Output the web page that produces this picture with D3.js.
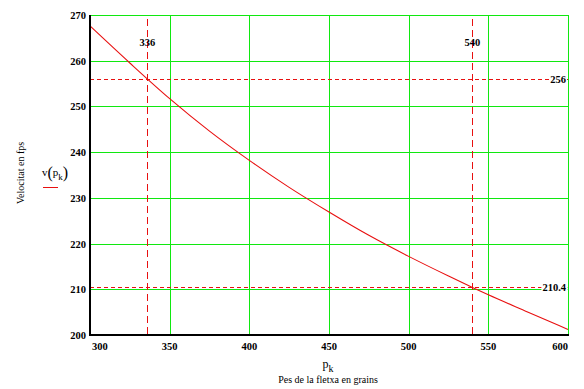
<!DOCTYPE html>
<html>
<head>
<meta charset="utf-8">
<script src="https://cdn.jsdelivr.net/npm/d3@7"></script>
<style>
  html, body { margin: 0; padding: 0; background: #fff; }
  svg { display: block; font-family: "Liberation Serif", "DejaVu Serif", serif; }
</style>
</head>
<body>
<svg id="chart" width="584" height="389"></svg>
<script>
// arrow weight in grains vs velocity in fps
const weights = [300, 325, 350, 375, 400, 425, 450, 475, 500, 525, 540, 550, 575, 600];
const velocities = [267.6, 259.5, 251.7, 244.6, 238.2, 232.3, 226.9, 221.8, 217.2, 212.9, 210.4, 208.8, 205.0, 201.2];

const xTicks = [300, 350, 400, 450, 500, 550, 600];
const yTicks = [200, 210, 220, 230, 240, 250, 260, 270];

// marker values
const markerX = [336, 540];
const markerY = [256, 210.4];

const svg = d3.select("#chart");
const plotL = 90, plotR = 568, plotT = 15, plotB = 335;

const x = d3.scaleLinear().domain([300, 600]).range([plotL, plotR]);
const y = d3.scaleLinear().domain([200, 270]).range([plotB, plotT]);

const grid = "#10e810";
const mark = "#e81010";

// grid
svg.append("g")
  .selectAll("line")
  .data(xTicks.slice(1))
  .join("line")
  .attr("x1", d => Math.round(x(d)) + 0.5)
  .attr("x2", d => Math.round(x(d)) + 0.5)
  .attr("y1", plotT)
  .attr("y2", plotB)
  .attr("stroke", grid);

svg.append("g")
  .selectAll("line")
  .data(yTicks.slice(1))
  .join("line")
  .attr("y1", d => Math.round(y(d)) + 0.5)
  .attr("y2", d => Math.round(y(d)) + 0.5)
  .attr("x1", plotL)
  .attr("x2", plotR)
  .attr("stroke", grid);

// marker lines
svg.append("g")
  .selectAll("line")
  .data(markerX)
  .join("line")
  .attr("x1", d => Math.round(x(d)) + 0.5)
  .attr("x2", d => Math.round(x(d)) + 0.5)
  .attr("y1", plotT + 4)
  .attr("y2", plotB)
  .attr("stroke", mark)
  .attr("stroke-dasharray", "7,4");

svg.append("g")
  .selectAll("line")
  .data(markerY)
  .join("line")
  .attr("y1", d => Math.round(y(d)) + 0.5)
  .attr("y2", d => Math.round(y(d)) + 0.5)
  .attr("x1", plotL)
  .attr("x2", plotR)
  .attr("stroke", mark)
  .attr("stroke-dasharray", "4,3");

// curve
const line = d3.line()
  .x((d, i) => x(weights[i]))
  .y(d => y(d))
  .curve(d3.curveMonotoneX);

svg.append("path")
  .attr("d", line(velocities))
  .attr("fill", "none")
  .attr("stroke", mark)
  .attr("stroke-width", 1.1);

// axes (left and bottom)
svg.append("line")
  .attr("x1", plotL).attr("x2", plotL)
  .attr("y1", plotT).attr("y2", plotB + 1)
  .attr("stroke", "#000").attr("stroke-width", 2);
svg.append("line")
  .attr("x1", plotL - 1).attr("x2", plotR + 1)
  .attr("y1", plotB).attr("y2", plotB)
  .attr("stroke", "#000").attr("stroke-width", 2);

// tick labels
svg.append("g")
  .selectAll("text")
  .data(xTicks)
  .join("text")
  .attr("x", (d, i) => i === 0 ? x(d) + 2 : x(d))
  .attr("y", 350)
  .attr("text-anchor", (d, i) => i === 0 ? "start" : i === xTicks.length - 1 ? "end" : "middle")
  .attr("font-size", "10.5px")
  .attr("font-weight", "bold")
  .text(d => d);

svg.append("g")
  .selectAll("text")
  .data(yTicks)
  .join("text")
  .attr("x", 86)
  .attr("y", d => y(d) + 4)
  .attr("text-anchor", "end")
  .attr("font-size", "10.5px")
  .attr("font-weight", "bold")
  .text(d => d);

// marker labels
svg.append("g")
  .selectAll("text")
  .data(markerX)
  .join("text")
  .attr("x", d => x(d))
  .attr("y", 46)
  .attr("text-anchor", "middle")
  .attr("font-size", "10.5px")
  .attr("font-weight", "bold")
  .text(d => d);

const yLabels = svg.append("g")
  .selectAll("g")
  .data(markerY)
  .join("g");
yLabels.append("rect")
  .attr("x", 551)
  .attr("y", d => y(d) - 6)
  .attr("width", 16)
  .attr("height", 11)
  .attr("fill", "#fff");
yLabels.append("text")
  .attr("x", 566)
  .attr("y", d => y(d) + 4)
  .attr("text-anchor", "end")
  .attr("font-size", "10.5px")
  .attr("font-weight", "bold")
  .text(d => d)
  .each(function () {
    const b = this.getBBox();
    d3.select(this.previousSibling).attr("x", b.x - 1).attr("width", b.width + 2);
  });

// axis titles
const xt = svg.append("text")
  .attr("x", 328)
  .attr("y", 368)
  .attr("text-anchor", "middle")
  .attr("font-size", "12px");
xt.append("tspan").text("p");
xt.append("tspan").attr("dy", 4).attr("font-size", "10px").text("k");

svg.append("text")
  .attr("x", 328)
  .attr("y", 383)
  .attr("text-anchor", "middle")
  .attr("font-size", "10px")
  .text("Pes de la fletxa en grains");

svg.append("text")
  .attr("transform", "translate(24,173) rotate(-90)")
  .attr("text-anchor", "middle")
  .attr("font-size", "10px")
  .text("Velocitat en fps");

// legend: v(p_k) with red sample line
const lg = svg.append("text")
  .attr("x", 42)
  .attr("y", 176)
  .attr("font-size", "11px");
lg.append("tspan").text("v");
lg.append("tspan").attr("font-size", "16px").attr("dy", 2).text("(");
lg.append("tspan").attr("font-size", "11px").attr("dy", -2).text("p");
lg.append("tspan").attr("font-size", "9px").attr("dy", 4).text("k");
lg.append("tspan").attr("font-size", "16px").attr("dy", -2).text(")");

svg.append("line")
  .attr("x1", 43).attr("x2", 58)
  .attr("y1", 187.5).attr("y2", 187.5)
  .attr("stroke", mark)
  .attr("stroke-width", 1);
</script>
</body>
</html>
